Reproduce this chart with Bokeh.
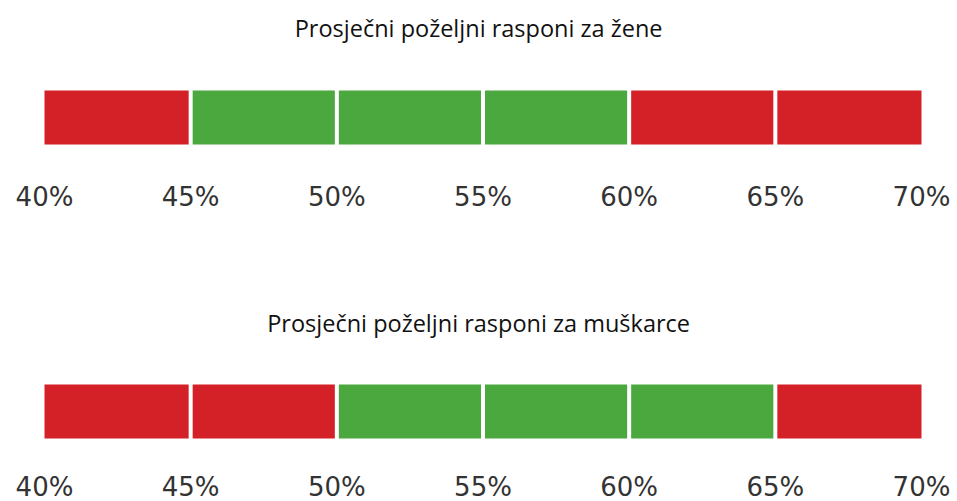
from bokeh.plotting import figure
from bokeh.models import ColumnDataSource, Range1d
from bokeh.core.properties import value
from bokeh.embed import file_html
from bokeh.resources import INLINE

# ---- data ----
ticks = [40, 45, 50, 55, 60, 65, 70]
tick_labels = ["40%", "45%", "50%", "55%", "60%", "65%", "70%"]
titles = ["Prosječni poželjni rasponi za žene", "Prosječni poželjni rasponi za muškarce"]
women_ok = [False, True, True, True, False, False]
men_ok = [False, False, True, True, True, False]

RED = "#d42127"
GREEN = "#4aa83f"

W, H = 957, 501
x0_px, x1_px = 44, 921
scale = (x1_px - x0_px) / (ticks[-1] - ticks[0])
xs = ticks[0] - x0_px / scale
xe = ticks[0] + (W - x0_px) / scale

p = figure(width=W, height=H, output_backend="svg", toolbar_location=None,
           x_range=Range1d(xs, xe), y_range=Range1d(H, 0),
           min_border=0, min_border_left=0, min_border_right=0,
           min_border_top=0, min_border_bottom=0)
p.axis.visible = False
p.grid.visible = False
p.outline_line_color = None
p.background_fill_color = "white"
p.border_fill_color = "white"

rows = [
    dict(ok=women_ok, title=titles[0], ty=27, top=90, bottom=144, ly=196),
    dict(ok=men_ok, title=titles[1], ty=322, top=384, bottom=438, ly=486),
]

for r in rows:
    src = ColumnDataSource(dict(
        left=ticks[:-1], right=ticks[1:],
        color=[GREEN if o else RED for o in r["ok"]],
    ))
    p.quad(left="left", right="right", top=r["top"], bottom=r["bottom"],
           fill_color="color", line_color=None, source=src)
    # white separators at inner boundaries
    inner = ticks[1:-1]
    p.segment(x0=inner, x1=inner, y0=[r["top"] - 1] * len(inner),
              y1=[r["bottom"] + 1] * len(inner), line_color="white", line_width=4)
    # tick labels
    p.text(x=ticks, y=[r["ly"]] * len(ticks), text=tick_labels,
           text_font=value("DejaVu Sans"), text_font_size="26px",
           text_color="#333333", text_align="center", text_baseline="middle")
    # title
    p.text(x=[(ticks[0] + ticks[-1]) / 2 - 0.15], y=[r["ty"]], text=[r["title"]],
           text_font=value("Open Sans"), text_font_size="23.5px",
           text_color="#111111", text_align="center", text_baseline="middle")

open("out.html", "w").write(file_html(p, INLINE))
